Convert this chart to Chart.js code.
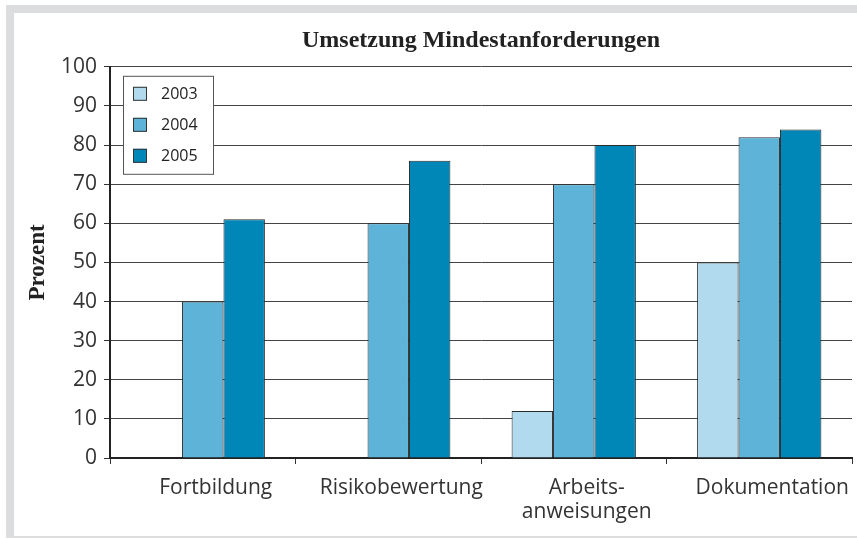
<!DOCTYPE html>
<html>
<head>
<meta charset="utf-8">
<script src="https://cdn.jsdelivr.net/npm/chart.js@4"></script>
<style>
  html, body { margin: 0; padding: 0; background: #fff; }
  #frame { position: absolute; left: 6px; top: 5px; width: 851px; height: 533px; background: #dcdddf; }
  #inner { position: absolute; left: 8px; top: 8px; width: 843px; height: 523px; background: #fff; }
  canvas { display: block; }
</style>
</head>
<body>
<div id="frame"><div id="inner"><canvas id="chart" width="843" height="523"></canvas></div></div>
<script>
// data
const categories = ["Fortbildung", "Risikobewertung", ["Arbeits-", "anweisungen"], "Dokumentation"];
const years = ["2003", "2004", "2005"];
const values2003 = [null, null, 12, 50];
const values2004 = [40, 60, 70, 82];
const values2005 = [61, 76, 80, 84];
const colors = ["#b1daee", "#5db3d8", "#0087b7"];

// legend box sitting inside the plot, top left
const boxLegend = {
    id: 'boxLegend',
    afterDraw(chart) {
        const ctx = chart.ctx;
        const x = chart.chartArea.left + 13;
        const y = chart.chartArea.top + 9;
        ctx.save();
        ctx.fillStyle = '#fff';
        ctx.fillRect(x, y, 90, 98);
        ctx.strokeStyle = '#555';
        ctx.lineWidth = 1;
        ctx.strokeRect(x + 0.5, y + 0.5, 90, 98);
        ctx.font = '16px "Open Sans"';
        ctx.textBaseline = 'middle';
        chart.data.datasets.forEach((ds, i) => {
            const cy = y + 18 + i * 31;
            ctx.fillStyle = ds.backgroundColor;
            ctx.fillRect(x + 10, cy - 7, 14, 14);
            ctx.strokeStyle = '#333';
            ctx.strokeRect(x + 10.5, cy - 6.5, 13, 13);
            ctx.fillStyle = '#222';
            ctx.fillText(ds.label, x + 38, cy + 1);
        });
        ctx.restore();
    }
};

const seriesValues = [values2003, values2004, values2005];

new Chart(document.getElementById('chart').getContext('2d'), {
    type: 'bar',
    data: {
        labels: categories,
        datasets: years.map((y, i) => ({
            label: y,
            data: seriesValues[i],
            backgroundColor: colors[i],
            borderColor: '#2a2a2a',
            borderWidth: 1,
            categoryPercentage: 0.67,
            barPercentage: 1.0
        }))
    },
    options: {
        responsive: false,
        animation: false,
        layout: { padding: { left: 0, right: 5, top: 0, bottom: 0 } },
        plugins: {
            legend: { display: false },
            tooltip: { enabled: false },
            title: {
                display: true,
                fullSize: false,
                text: 'Umsetzung Mindestanforderungen',
                color: '#222',
                font: { family: '"Liberation Serif", serif', size: 24, weight: 'bold' },
                padding: { top: 13, bottom: 12 }
            }
        },
        scales: {
            x: {
                afterFit(scale) { scale.height = 78; },
                grid: {
                    offset: true,
                    drawOnChartArea: true,
                    color: (c) => c.index === 4 ? '#888' : 'rgba(0,0,0,0)',
                    tickColor: '#333',
                    tickLength: 6,
                    lineWidth: 1
                },
                border: { display: true, color: '#222', width: 2 },
                ticks: {
                    color: '#333',
                    font: { family: '"Open Sans", sans-serif', size: 21, lineHeight: 1.15 },
                    padding: 12,
                    labelOffset: 13,
                    maxRotation: 0,
                    autoSkip: false
                }
            },
            y: {
                min: 0,
                max: 100,
                afterFit(scale) { scale.width = 96; },
                grid: {
                    color: '#444',
                    lineWidth: 1,
                    tickLength: 6,
                    tickColor: '#333'
                },
                border: { display: true, color: '#222', width: 2 },
                ticks: {
                    stepSize: 10,
                    color: '#333',
                    padding: 7,
                    font: { family: '"Open Sans", sans-serif', size: 21 }
                },
                title: {
                    display: true,
                    text: 'Prozent',
                    color: '#222',
                    font: { family: '"Liberation Serif", serif', size: 23, weight: 'bold' },
                    padding: { top: 10, bottom: 0 }
                }
            }
        }
    },
    plugins: [boxLegend]
});
</script>
</body>
</html>
